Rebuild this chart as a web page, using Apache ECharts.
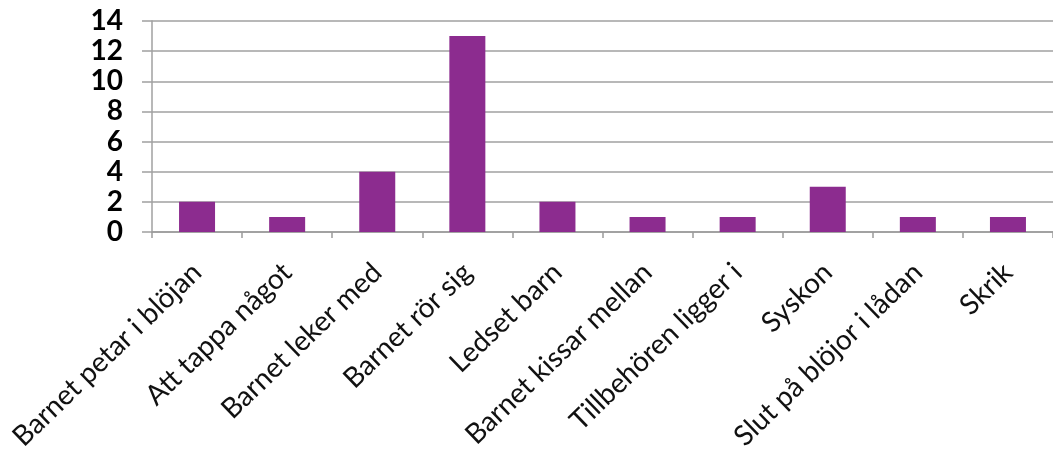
<!DOCTYPE html>
<html>
<head>
<meta charset="utf-8">
<script src="https://cdn.jsdelivr.net/npm/echarts@6/dist/echarts.min.js"></script>
<style>html,body{margin:0;padding:0;background:#fff;}#c{width:1053px;height:455px;}</style>
</head>
<body>
<div id="c"></div>
<script>
const categories = ["Barnet petar i blöjan","Att tappa något","Barnet leker med","Barnet rör sig","Ledset barn","Barnet kissar mellan","Tillbehören ligger i","Syskon","Slut på blöjor i lådan","Skrik"];
const values = [2,1,4,13,2,1,1,3,1,1];
const yTicks = [0,2,4,6,8,10,12,14];

const chart = echarts.init(document.getElementById('c'), null, {renderer:'canvas'});
chart.setOption({
  animation:false,
  backgroundColor:'#fff',
  grid:{left:152,right:-8,top:21,bottom:223,containLabel:false},
  xAxis:{
    type:'category',
    data:categories,
    boundaryGap:true,
    axisLine:{show:true,lineStyle:{color:'#9a9a9a',width:1.5}},
    axisTick:{show:true,alignWithLabel:false,length:6,lineStyle:{color:'#9a9a9a',width:1.5}},
    axisLabel:{interval:0,rotate:44,color:'#111',fontFamily:'Lato',fontSize:28,margin:36}
  },
  yAxis:{
    type:'value',
    min:yTicks[0],max:yTicks[yTicks.length-1],interval:2,
    axisLine:{show:true,lineStyle:{color:'#a0a0a0',width:1.5}},
    axisTick:{show:true,length:10,lineStyle:{color:'#a0a0a0',width:1.5}},
    splitLine:{show:true,lineStyle:{color:'#a0a0a0',width:1.5}},
    axisLabel:{color:'#000',fontFamily:'Lato',fontWeight:'bold',fontSize:28,margin:29}
  },
  series:[{
    type:'bar',
    data:values,
    barWidth:36,
    itemStyle:{color:'#8c2c8f'}
  }]
});
</script>
</body>
</html>
